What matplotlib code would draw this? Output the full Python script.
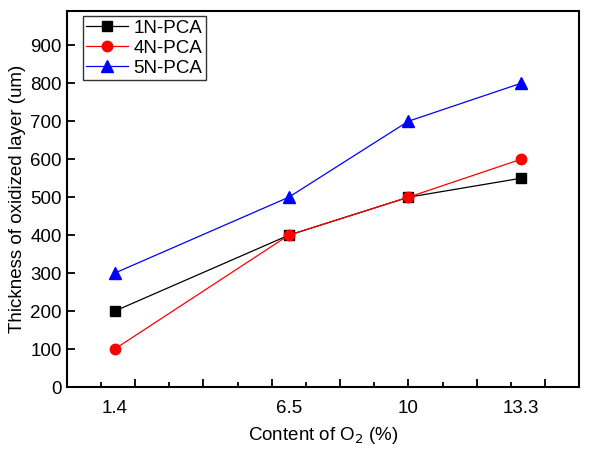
import numpy as np
import matplotlib.pyplot as plt

plt.rcParams['font.family'] = ['Liberation Sans', 'DejaVu Sans']

# data
o2_content = [1.4, 6.5, 10, 13.3]
pca_1n = [200, 400, 500, 550]
pca_4n = [100, 400, 500, 600]
pca_5n = [300, 500, 700, 800]

fig = plt.figure(figsize=(5.98, 4.62), dpi=100)
ax = fig.add_axes([0.1115, 0.162, 0.857, 0.814])

ax.plot(o2_content, pca_1n, color='black', marker='s', markersize=7, linewidth=0.9, label='1N-PCA')
ax.plot(o2_content, pca_4n, color='red', marker='o', markersize=7.5, linewidth=0.9, label='4N-PCA')
ax.plot(o2_content, pca_5n, color='blue', marker='^', markersize=8, linewidth=0.9, label='5N-PCA')

ax.set_xlim(0, 15)
ax.set_ylim(0, 990)

# tick marks at integers (long on even), labels only at the measured points
ax.set_xticks(np.arange(2, 15, 2))
ax.set_xticks(np.arange(1, 15, 2), minor=True)
ax.set_xticklabels([])
ax.tick_params(axis='x', which='major', direction='in', length=6, width=1.3)
ax.tick_params(axis='x', which='minor', direction='in', length=3.5, width=1.3)

lab = ax.secondary_xaxis('bottom')
lab.set_xticks(o2_content)
lab.set_xticklabels(['1.4', '6.5', '10', '13.3'])
lab.tick_params(length=0, labelsize=13.5, pad=9)
lab.spines['bottom'].set_visible(False)
lab.set_xlabel('Content of O$_2$ (%)', fontsize=13.5, labelpad=6)

ax.set_yticks(np.arange(0, 901, 100))
ax.tick_params(axis='y', direction='in', length=6, width=1.3, labelsize=13.5)

for s in ax.spines.values():
    s.set_linewidth(1.5)

ax.set_ylabel('Thickness of oxidized layer (um)', fontsize=13.5, labelpad=3)

leg = ax.legend(loc='upper left', bbox_to_anchor=(0.031, 0.987), fontsize=13.5,
                frameon=True, fancybox=False, edgecolor='black',
                handlelength=2.2, handletextpad=0.3, borderpad=0.2,
                labelspacing=0.15, borderaxespad=0)
leg.get_frame().set_linewidth(1.0)

fig.savefig('out.png', dpi=100)
